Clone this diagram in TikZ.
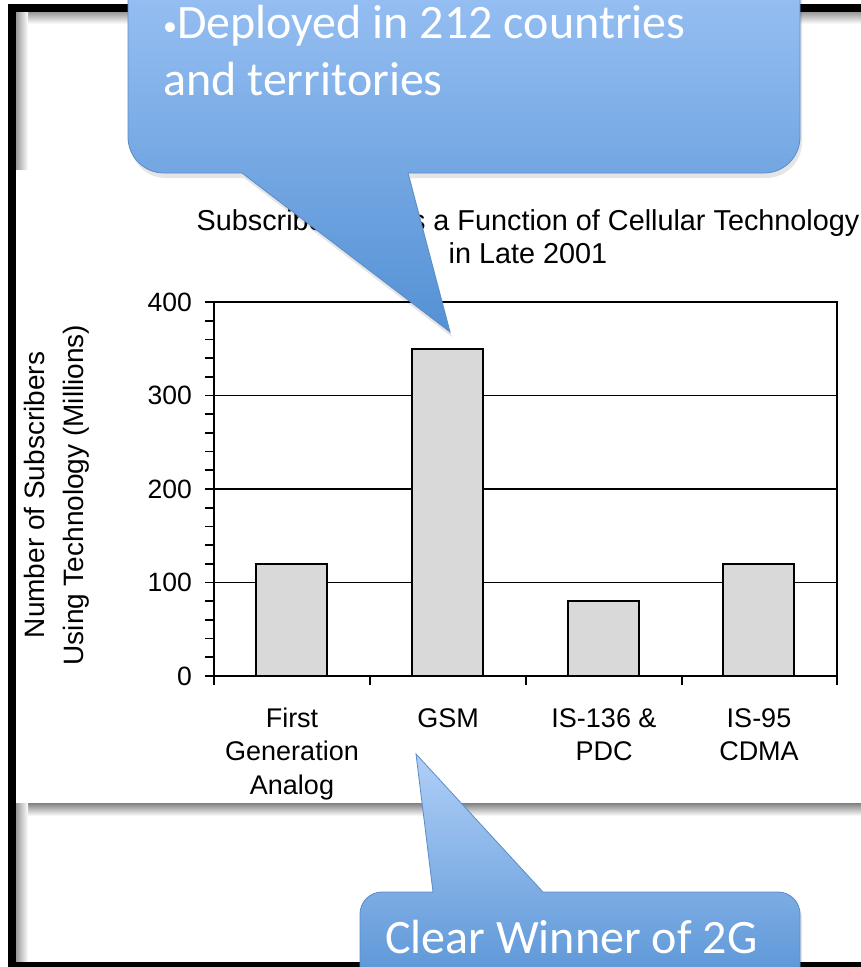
\documentclass[tikz,border=0pt]{standalone}
\usepackage{fontspec}
\setmainfont{Liberation Sans}
\newfontfamily\calfont{Carlito}
\definecolor{barfill}{HTML}{D9D9D9}
\definecolor{cotop}{HTML}{9CC3F5}
\definecolor{cobot}{HTML}{5491D4}
\definecolor{coline}{HTML}{5B8CC8}
\tikzset{
  chartline/.style={line width=1.7pt, black},
  barbox/.style={chartline, fill=barfill},
  ticklbl/.style={font=\fontsize{26.5}{30}\selectfont, inner sep=0pt, anchor=east},
  catlbl/.style={font=\fontsize{27}{32}\selectfont, inner sep=0pt, anchor=base},
  titlelbl/.style={font=\fontsize{28.8}{32}\selectfont, inner sep=0pt, anchor=base},
  ylbl/.style={font=\fontsize{28}{32}\selectfont, inner sep=0pt, anchor=base, rotate=90},
  cotext/.style={font=\calfont\fontsize{48}{57}\selectfont, text=white, inner sep=0pt, anchor=base west},
  coshape/.style={top color=cotop, bottom color=cobot, draw=coline, line width=0.8pt},
  coshadow/.style={fill=black, opacity=0.10},
}
\begin{document}
\begin{tikzpicture}[x=1pt, y=-1pt]
\useasboundingbox (0,0) rectangle (861,967);
\clip (0,0) rectangle (861,967);
% slide background
\fill[white] (0,0) rectangle (861,967);
\shade[top color=black!40, bottom color=white] (16,12) rectangle (861,24);
\shade[left color=black!40, right color=white] (16,12) rectangle (28,170);
\shade[top color=black!50, bottom color=white] (16,803) rectangle (861,816);
\shade[left color=black!40, right color=white] (16,803) rectangle (28,962);
% chart picture
\fill[white] (16,170) rectangle (861,803);
% black frame
\fill[black] (8,4) rectangle (861,12);
\fill[black] (8,4) rectangle (16,967);
\fill[black] (8,962) rectangle (861,967);

% grid lines
\foreach \v in {100,200,300}
  \draw[chartline] (214,{676-0.935*\v}) -- (837,{676-0.935*\v});
% bars
\draw[barbox] (256,676) rectangle (327,563.8);
\draw[barbox] (412,676) rectangle (483,348.75);
\draw[barbox] (568,676) rectangle (639,601.2);
\draw[barbox] (723,676) rectangle (794,563.8);
% frame and axes
\draw[chartline] (214,685) -- (214,302) -- (837,302) -- (837,685);
\draw[chartline] (205,676) -- (837,676);
\foreach \v in {0,20,...,400}
  \draw[chartline] (205,{676-0.935*\v}) -- (214,{676-0.935*\v});
\foreach \x in {370,526,682}
  \draw[chartline] (\x,676) -- (\x,685);
% tick labels
\node[ticklbl] (t0) at (192,676) {0};
\node[ticklbl] (t100) at (192,582.5) {100};
\node[ticklbl] (t200) at (192,489) {200};
\node[ticklbl] (t300) at (192,395.5) {300};
\node[ticklbl] (t400) at (192,302) {400};
% axis title
\node[ylbl] (ylab1) at (45,495) {Number of Subscribers};
\node[ylbl] (ylab2) at (83,495) {Using Technology (Millions)};
% chart title
\node[titlelbl] (title1) at (528,230) {Subscribership as a Function of Cellular Technology};
\node[titlelbl] (title2) at (528,263) {in Late 2001};
% category labels
\node[catlbl] (c1a) at (292,727) {First};
\node[catlbl] (c1b) at (292,760.5) {Generation};
\node[catlbl] (c1c) at (292,794) {Analog};
\node[catlbl] (c2a) at (448,727) {GSM};
\node[catlbl] (c3a) at (604,727) {IS-136 \&};
\node[catlbl] (c3b) at (604,760.5) {PDC};
\node[catlbl] (c4a) at (759,727) {IS-95};
\node[catlbl] (c4b) at (759,760.5) {CDMA};

% top callout
\begin{scope}[shift={(2,5)}]
\fill[coshadow] (128,-40) -- (800,-40) -- (800,137) .. controls (800,156.9) and (784.1,173) .. (764,173) -- (408,173) -- (450,332) -- (242,173) -- (164,173) .. controls (144.1,173) and (128,156.9) .. (128,137) -- cycle;
\end{scope}
\shadedraw[coshape] (128,-40) -- (800,-40) -- (800,137) .. controls (800,156.9) and (784.1,173) .. (764,173) -- (408,173) -- (450,332) -- (242,173) -- (164,173) .. controls (144.1,173) and (128,156.9) .. (128,137) -- cycle;
\node[cotext] (co1a) at (163,38) {{\fontsize{28}{28}\selectfont\raisebox{3pt}{•}}Deployed in 212 countries};
\node[cotext] (co1b) at (163,95) {and territories};

% bottom callout
\begin{scope}[shift={(2,5)}]
\fill[coshadow] (360,1000) -- (360,914) .. controls (360,901.9) and (369.9,892) .. (382,892) -- (433,892) -- (416,754) -- (543,892) -- (778,892) .. controls (790.1,892) and (800,901.9) .. (800,914) -- (800,1000) -- cycle;
\end{scope}
\shadedraw[coshape, top color=cotop!80!white] (360,1000) -- (360,914) .. controls (360,901.9) and (369.9,892) .. (382,892) -- (433,892) -- (416,754) -- (543,892) -- (778,892) .. controls (790.1,892) and (800,901.9) .. (800,914) -- (800,1000) -- cycle;
\node[cotext] (co2) at (385,953) {Clear Winner of 2G};
\end{tikzpicture}
\end{document}
